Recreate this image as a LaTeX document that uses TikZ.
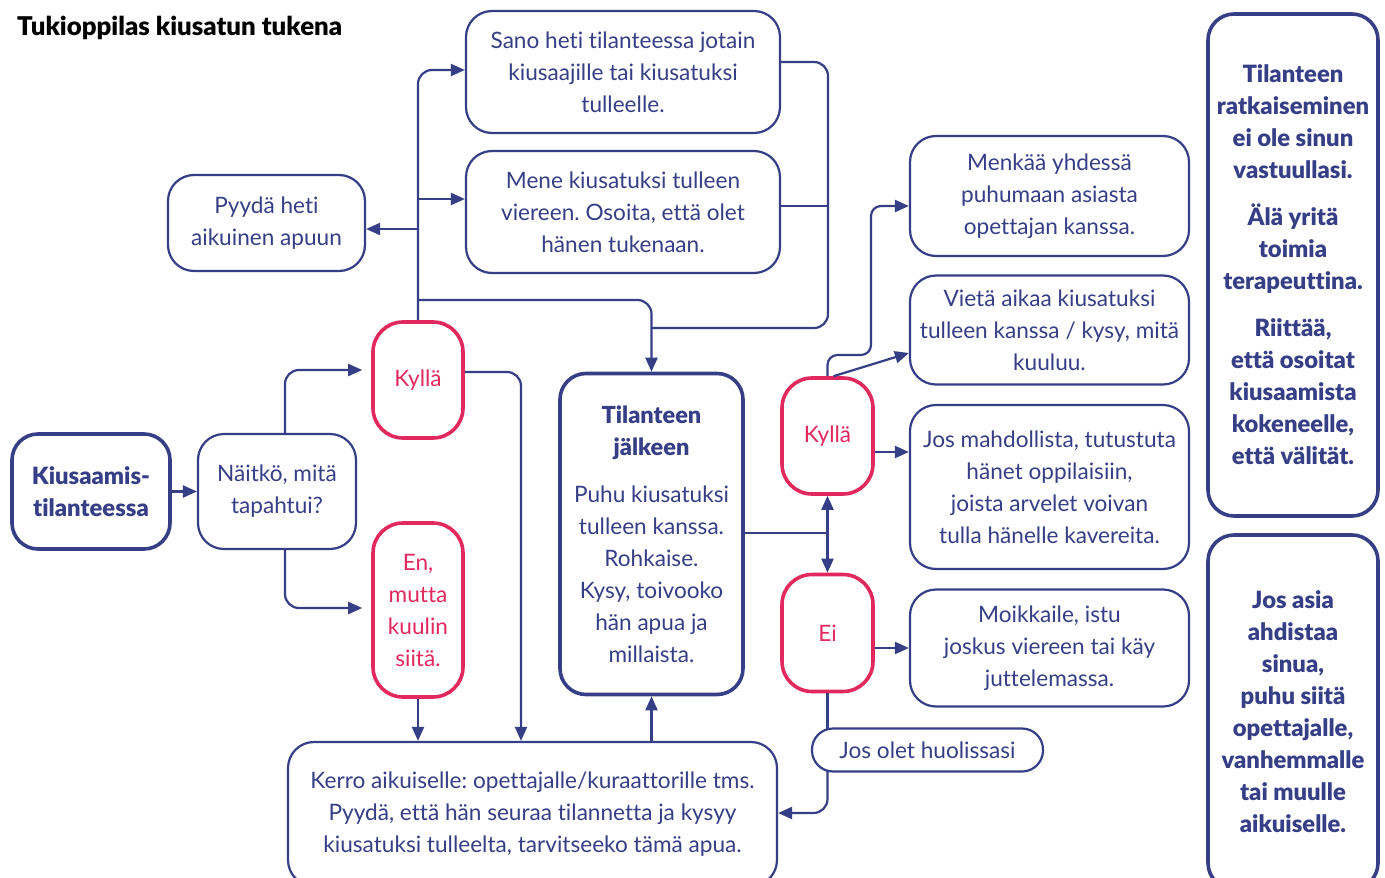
\documentclass[tikz,border=0pt]{standalone}
\usepackage{fontspec}
\setmainfont{Lato}[Ligatures=NoCommon]
\newfontfamily\blackfont{Lato Black}[Ligatures=NoCommon]
\usetikzlibrary{arrows.meta,calc}
\definecolor{navy}{HTML}{363F86}
\definecolor{crim}{HTML}{E2295E}
\frenchspacing
\newcommand{\bk}[1]{{\blackfont\fontsize{23.5}{32}\selectfont #1}}
\begin{document}
\begin{tikzpicture}[x=1pt,y=-1pt,
  every node/.style={font=\fontsize{22.6}{32}\selectfont, align=center, inner sep=0pt},
  box/.style={draw=navy, line width=2.2pt, rounded corners=26pt, text=navy, fill=white},
  thickbox/.style={box, line width=3.6pt},
  bt/.style={font=\fontsize{23.8}{32}\selectfont\blackfont},
  redbox/.style={draw=crim, line width=3.6pt, rounded corners=30pt, text=crim, fill=white},
  conn/.style={draw=navy, line width=2.2pt, rounded corners=14pt},
  arr/.style={-{Triangle[length=14pt,width=12pt]}}
]
\useasboundingbox (0,0) rectangle (1385,878);
\fill[white] (0,0) rectangle (1385,878);

\node[anchor=west, font=\fontsize{25.8}{28}\selectfont\blackfont] (title) at (17,28) {Tukioppilas kiusatun tukena};

\node[thickbox, bt, minimum width=158pt, minimum height=115pt] (kt) at (91,491.5) {Kiusaamis-\\tilanteessa};
\node[box, minimum width=158pt, minimum height=115pt] (nt) at (277,491.5) {Näitkö, mitä\\tapahtui?};
\node[redbox, minimum width=90pt, minimum height=116pt] (ky1) at (418,380) {Kyllä};
\node[redbox, minimum width=90pt, minimum height=174pt] (en) at (418,610) {En,\\mutta\\kuulin\\siitä.};
\node[box, minimum width=197pt, minimum height=96pt] (py) at (266.5,223) {Pyydä heti\\aikuinen apuun};
\node[box, minimum width=314pt, minimum height=122pt] (sa) at (623,72) {Sano heti tilanteessa jotain\\kiusaajille tai kiusatuksi\\tulleelle.};
\node[box, minimum width=314pt, minimum height=122pt] (me) at (623,212) {Mene kiusatuksi tulleen\\viereen. Osoita, että olet\\hänen tukenaan.};
\node[thickbox, minimum width=183pt, minimum height=321pt] (ti) at (651.5,534) {\bk{Tilanteen}\\\bk{jälkeen}\\[15pt]Puhu kiusatuksi\\tulleen kanssa.\\Rohkaise.\\Kysy, toivooko\\hän apua ja\\millaista.};
\node[redbox, minimum width=91pt, minimum height=116pt] (ky2) at (827.5,436) {Kyllä};
\node[redbox, minimum width=91pt, minimum height=117pt] (ei) at (827.5,633) {Ei};
\node[box, minimum width=279pt, minimum height=120pt] (mk) at (1049.5,196) {Menkää yhdessä\\puhumaan asiasta\\opettajan kanssa.};
\node[box, minimum width=279pt, minimum height=109pt] (vi) at (1049.5,330) {Vietä aikaa kiusatuksi\\tulleen kanssa / kysy, mitä\\kuuluu.};
\node[box, minimum width=279pt, minimum height=164pt] (jm) at (1049.5,487) {Jos mahdollista, tutustuta\\hänet oppilaisiin,\\joista arvelet voivan\\tulla hänelle kavereita.};
\node[box, minimum width=279pt, minimum height=117pt] (mo) at (1049.5,648) {Moikkaile, istu\\joskus viereen tai käy\\juttelemassa.};
\node[box, minimum width=489pt, minimum height=144pt] (ke) at (532.5,814) {Kerro aikuiselle: opettajalle/kuraattorille tms.\\Pyydä, että hän seuraa tilannetta ja kysyy\\kiusatuksi tulleelta, tarvitseeko tämä apua.};
\node[thickbox, bt, minimum width=170pt, minimum height=502pt] (r1) at (1293,265) {Tilanteen\\ratkaiseminen\\ei ole sinun\\vastuullasi.\\[15pt]Älä yritä\\toimia\\terapeuttina.\\[15pt]Riittää,\\että osoitat\\kiusaamista\\kokeneelle,\\että välität.};
\node[thickbox, bt, minimum width=170pt, minimum height=354pt] (r2) at (1293,712) {Jos asia\\ahdistaa\\sinua,\\puhu siitä\\opettajalle,\\vanhemmalle\\tai muulle\\aikuiselle.};

\coordinate (b1) at (418,199);
\coordinate (b2) at (418,229);
\coordinate (b3) at (418,300);
\coordinate (c1) at (828,328);
\coordinate (tj) at (651,328);
\coordinate (c3) at (871,355);
\coordinate (kx) at (521,0);
\coordinate (nx) at (285,0);

% left part
\draw[conn,arr] (kt.east) -- (nt.west);
\draw[conn,arr,shorten >=9pt] (nx |- nt.north) |- (ky1.west |- 0,370);
\draw[conn,arr,shorten >=9pt] (nx |- nt.south) |- (en.west |- 0,608);
\draw[conn,arr] (ky1.north) |- (sa.west |- 0,70);
\draw[conn,arr] (b1) -- (me.west |- b1);
\draw[conn,arr] (b2) -- (py.east |- b2);
\draw[conn,arr] (b3) -| (ti.north);
\draw[conn] (sa.east |- 0,62) -| (c1) -- (tj);
\draw[conn] (me.east |- 0,206) -- (c1 |- 0,206);
\draw[conn,arr] (ky1.east |- 0,372) -| (kx |- ke.north);
\draw[conn,arr] (en.south) -- (en.south |- ke.north);
\draw[conn,arr] (ke.north -| ti.south) -- (ti.south);

% right part
\draw[conn] (ti.east |- 0,533) -- (ky2.south |- 0,533);
\draw[conn,arr] (ky2.south |- 0,533) -- (ky2.south);
\draw[conn,arr] (ei.north |- 0,533) -- (ei.north);
\draw[conn,arr,rounded corners=10pt] (ky2.north) |- (c3) |- (mk.west |- 0,206);
\draw[conn,arr] ([xshift=6pt]ky2.north) -- (vi.west |- 0,353);
\draw[conn,arr] (ky2.east |- 0,452) -- (jm.west |- 0,452);
\draw[conn,arr] (ei.east |- 0,648) -- (mo.west |- 0,648);
\draw[conn] (ei.south) -- (ei.south |- 0,740);
\draw[conn,arr] (ei.south |- 0,760) |- (ke.east |- 0,813);

\node[box, minimum width=231pt, minimum height=43pt, rounded corners=21pt] (jo) at (927.5,750) {Jos olet huolissasi};
\end{tikzpicture}
\end{document}
